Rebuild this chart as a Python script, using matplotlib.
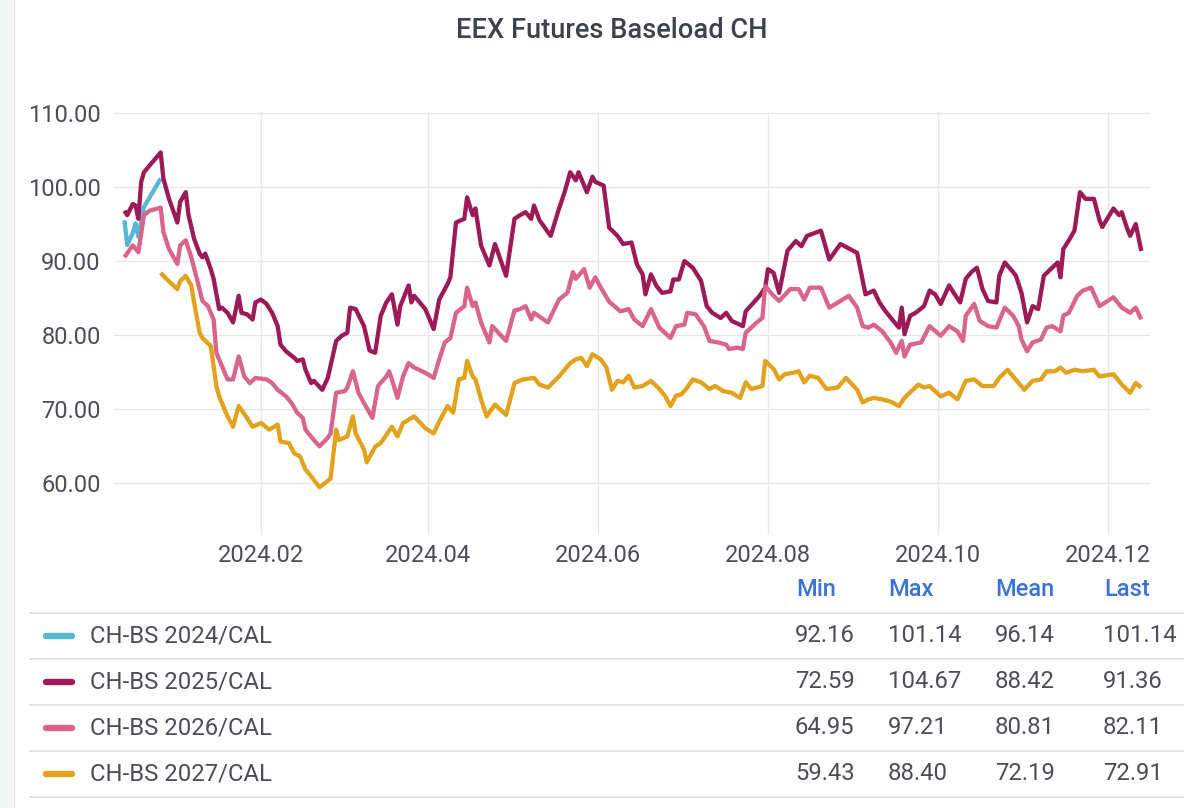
import matplotlib
matplotlib.use('Agg')
import matplotlib.pyplot as plt
import matplotlib.dates as mdates
from matplotlib.lines import Line2D
from matplotlib.patches import Rectangle
import pandas as pd

plt.rcParams['font.family'] = ['Roboto', 'DejaVu Sans']

# ---------------- data ----------------
title = 'EEX Futures Baseload CH'
series_names = ['CH-BS 2024/CAL', 'CH-BS 2025/CAL', 'CH-BS 2026/CAL', 'CH-BS 2027/CAL']
series_colors = ['#56b8d3', '#9c1b56', '#d9658b', '#e2a21e']

dates_2024 = ['2023-12-14', '2023-12-15', '2023-12-17', '2023-12-18', '2023-12-19',
              '2023-12-21', '2023-12-27']
vals_2024 = [95.5, 92.16, 93.8, 95.1, 93.3, 97.3, 101.14]

dates_2025 = ['2023-12-14', '2023-12-15', '2023-12-17', '2023-12-18', '2023-12-19', '2023-12-20',
              '2023-12-21', '2023-12-23', '2023-12-27', '2023-12-28', '2023-12-30', '2024-01-02',
              '2024-01-03', '2024-01-05', '2024-01-06', '2024-01-08', '2024-01-10', '2024-01-11',
              '2024-01-12', '2024-01-14', '2024-01-15', '2024-01-17', '2024-01-18', '2024-01-20',
              '2024-01-22', '2024-01-24', '2024-01-25', '2024-01-27', '2024-01-29', '2024-01-30',
              '2024-02-01', '2024-02-03', '2024-02-05', '2024-02-07', '2024-02-08', '2024-02-10',
              '2024-02-13', '2024-02-14', '2024-02-16', '2024-02-17', '2024-02-19', '2024-02-20',
              '2024-02-23', '2024-02-25', '2024-02-28', '2024-03-01', '2024-03-03', '2024-03-04',
              '2024-03-06', '2024-03-09', '2024-03-11', '2024-03-13', '2024-03-15', '2024-03-17',
              '2024-03-19', '2024-03-21', '2024-03-22', '2024-03-25', '2024-03-26', '2024-03-27',
              '2024-03-31', '2024-04-03', '2024-04-05', '2024-04-08', '2024-04-09', '2024-04-11',
              '2024-04-14', '2024-04-15', '2024-04-17', '2024-04-18', '2024-04-20', '2024-04-23',
              '2024-04-25', '2024-04-29', '2024-05-02', '2024-05-04', '2024-05-06', '2024-05-08',
              '2024-05-09', '2024-05-11', '2024-05-15', '2024-05-18', '2024-05-20', '2024-05-22',
              '2024-05-24', '2024-05-25', '2024-05-28', '2024-05-30', '2024-05-31', '2024-06-03',
              '2024-06-05', '2024-06-08', '2024-06-10', '2024-06-13', '2024-06-15', '2024-06-17',
              '2024-06-18', '2024-06-20', '2024-06-22', '2024-06-24', '2024-06-27', '2024-06-28',
              '2024-06-30', '2024-07-02', '2024-07-05', '2024-07-08', '2024-07-10', '2024-07-12',
              '2024-07-15', '2024-07-17', '2024-07-19', '2024-07-23', '2024-07-24', '2024-07-29',
              '2024-07-31', '2024-08-01', '2024-08-03', '2024-08-05', '2024-08-08', '2024-08-11',
              '2024-08-13', '2024-08-15', '2024-08-20', '2024-08-23', '2024-08-27', '2024-09-02',
              '2024-09-05', '2024-09-08', '2024-09-10', '2024-09-12', '2024-09-15', '2024-09-17',
              '2024-09-18', '2024-09-19', '2024-09-21', '2024-09-23', '2024-09-26', '2024-09-28',
              '2024-09-30', '2024-10-02', '2024-10-05', '2024-10-07', '2024-10-09', '2024-10-11',
              '2024-10-13', '2024-10-15', '2024-10-17', '2024-10-19', '2024-10-22', '2024-10-23',
              '2024-10-25', '2024-10-28', '2024-10-29', '2024-10-31', '2024-11-02', '2024-11-04',
              '2024-11-06', '2024-11-08', '2024-11-11', '2024-11-13', '2024-11-14', '2024-11-15',
              '2024-11-17', '2024-11-19', '2024-11-21', '2024-11-23', '2024-11-26', '2024-11-28',
              '2024-11-29', '2024-12-03', '2024-12-05', '2024-12-06', '2024-12-08', '2024-12-09',
              '2024-12-11', '2024-12-12', '2024-12-13']
vals_2025 = [96.8, 96.2, 97.7, 97.5, 95.7, 100.7,
             102.0, 102.9, 104.67, 101.1, 98.4, 95.2,
             98.0, 99.3, 96.2, 93.0, 91.0, 90.5,
             91.0, 88.9, 87.6, 83.5, 83.7, 83.0,
             81.7, 85.3, 83.0, 82.8, 82.1, 84.4,
             84.8, 84.2, 83.0, 81.2, 78.7, 77.8,
             76.9, 76.5, 76.7, 75.3, 73.5, 73.8,
             72.59, 74.2, 79.2, 79.9, 80.3, 83.7,
             83.5, 81.2, 77.9, 77.6, 82.6, 84.4,
             85.5, 81.4, 83.9, 86.7, 84.4, 85.3,
             83.5, 80.8, 84.8, 86.9, 87.8, 95.2,
             95.7, 98.6, 96.2, 97.1, 92.1, 89.4,
             92.3, 88.0, 95.7, 96.2, 96.6, 95.7,
             97.5, 95.5, 93.4, 97.1, 99.3, 102.0,
             100.9, 102.0, 99.3, 101.4, 100.7, 100.2,
             94.5, 93.4, 92.3, 92.5, 89.5, 88.2,
             85.5, 88.2, 86.6, 85.7, 85.9, 87.5,
             87.5, 90.0, 89.1, 87.3, 83.9, 83.0,
             82.3, 83.0, 81.9, 81.2, 83.2, 85.3,
             86.4, 88.9, 88.4, 85.7, 91.4, 92.7,
             92.0, 93.4, 94.1, 90.2, 92.3, 91.1,
             85.5, 86.0, 84.4, 83.3, 81.9, 81.0,
             83.7, 80.1, 82.6, 83.0, 83.9, 86.0,
             85.5, 84.2, 86.7, 85.5, 84.4, 87.6,
             88.5, 89.1, 86.2, 84.6, 84.4, 88.0,
             89.8, 88.5, 88.0, 85.7, 81.7, 83.9,
             83.5, 88.0, 89.1, 89.8, 87.8, 91.6,
             92.8, 94.1, 99.3, 98.4, 98.4, 95.5,
             94.6, 97.1, 96.2, 96.6, 94.3, 93.4,
             95.0, 93.2, 91.36]

dates_2026 = ['2023-12-14', '2023-12-16', '2023-12-17', '2023-12-19', '2023-12-21', '2023-12-23',
              '2023-12-27', '2023-12-28', '2023-12-30', '2024-01-02', '2024-01-03', '2024-01-05',
              '2024-01-07', '2024-01-09', '2024-01-11', '2024-01-13', '2024-01-15', '2024-01-16',
              '2024-01-18', '2024-01-20', '2024-01-22', '2024-01-24', '2024-01-26', '2024-01-28',
              '2024-01-30', '2024-02-03', '2024-02-05', '2024-02-07', '2024-02-10', '2024-02-12',
              '2024-02-14', '2024-02-16', '2024-02-17', '2024-02-20', '2024-02-22', '2024-02-25',
              '2024-02-26', '2024-02-28', '2024-03-02', '2024-03-03', '2024-03-05', '2024-03-07',
              '2024-03-09', '2024-03-12', '2024-03-14', '2024-03-17', '2024-03-18', '2024-03-19',
              '2024-03-21', '2024-03-23', '2024-03-25', '2024-03-27', '2024-03-31', '2024-04-03',
              '2024-04-05', '2024-04-07', '2024-04-09', '2024-04-11', '2024-04-14', '2024-04-15',
              '2024-04-17', '2024-04-18', '2024-04-20', '2024-04-23', '2024-04-24', '2024-04-29',
              '2024-05-02', '2024-05-04', '2024-05-06', '2024-05-08', '2024-05-09', '2024-05-14',
              '2024-05-18', '2024-05-21', '2024-05-23', '2024-05-24', '2024-05-27', '2024-05-29',
              '2024-05-31', '2024-06-02', '2024-06-05', '2024-06-09', '2024-06-12', '2024-06-14',
              '2024-06-17', '2024-06-20', '2024-06-23', '2024-06-27', '2024-06-29', '2024-07-02',
              '2024-07-03', '2024-07-06', '2024-07-09', '2024-07-11', '2024-07-14', '2024-07-17',
              '2024-07-18', '2024-07-21', '2024-07-23', '2024-07-24', '2024-07-28', '2024-07-30',
              '2024-07-31', '2024-08-03', '2024-08-05', '2024-08-09', '2024-08-12', '2024-08-14',
              '2024-08-16', '2024-08-20', '2024-08-23', '2024-08-27', '2024-08-30', '2024-09-02',
              '2024-09-04', '2024-09-06', '2024-09-08', '2024-09-11', '2024-09-14', '2024-09-16',
              '2024-09-18', '2024-09-19', '2024-09-21', '2024-09-25', '2024-09-28', '2024-10-02',
              '2024-10-05', '2024-10-08', '2024-10-10', '2024-10-11', '2024-10-14', '2024-10-16',
              '2024-10-19', '2024-10-22', '2024-10-25', '2024-10-28', '2024-10-30', '2024-10-31',
              '2024-11-02', '2024-11-04', '2024-11-07', '2024-11-09', '2024-11-11', '2024-11-14',
              '2024-11-15', '2024-11-17', '2024-11-20', '2024-11-22', '2024-11-25', '2024-11-28',
              '2024-12-03', '2024-12-06', '2024-12-09', '2024-12-11', '2024-12-13']
vals_2026 = [90.5, 91.6, 92.1, 91.2, 96.2, 96.8,
             97.21, 93.9, 91.6, 89.6, 92.1, 92.8,
             90.5, 87.6, 84.6, 83.9, 82.1, 77.6,
             75.8, 74.0, 74.0, 77.1, 74.4, 73.5,
             74.2, 74.0, 73.5, 72.6, 71.7, 70.8,
             69.5, 68.8, 67.2, 65.8, 64.95, 66.1,
             66.7, 72.2, 72.4, 72.9, 75.1, 72.2,
             70.8, 68.8, 73.1, 74.4, 75.1, 74.0,
             71.5, 74.4, 76.2, 75.6, 74.9, 74.2,
             76.7, 79.0, 79.6, 83.0, 83.9, 86.4,
             83.9, 84.4, 81.7, 79.0, 81.2, 79.2,
             83.3, 83.5, 83.9, 82.1, 83.0, 81.7,
             84.8, 85.7, 88.5, 87.6, 88.9, 86.4,
             87.8, 86.4, 84.5, 83.2, 83.5, 82.1,
             81.2, 83.5, 81.0, 79.6, 81.2, 81.4,
             83.0, 82.8, 81.2, 79.2, 79.0, 78.7,
             78.1, 78.3, 78.1, 80.3, 81.7, 82.3,
             86.6, 85.3, 84.6, 86.2, 86.2, 84.8,
             86.4, 86.4, 83.7, 84.6, 85.3, 83.7,
             81.2, 81.0, 81.4, 80.5, 79.0, 77.6,
             79.2, 77.1, 78.7, 79.0, 81.2, 79.9,
             81.2, 80.5, 79.2, 82.6, 84.2, 81.9,
             81.2, 81.0, 83.7, 82.6, 81.2, 79.4,
             77.8, 79.0, 79.4, 81.0, 81.2, 80.5,
             82.6, 83.0, 85.3, 86.0, 86.4, 83.9,
             85.1, 83.7, 83.0, 83.7, 82.11]

dates_2027 = ['2023-12-27', '2023-12-29', '2023-12-31', '2024-01-02', '2024-01-03', '2024-01-05',
              '2024-01-07', '2024-01-08', '2024-01-10', '2024-01-11', '2024-01-14', '2024-01-15',
              '2024-01-16', '2024-01-17', '2024-01-20', '2024-01-22', '2024-01-24', '2024-01-27',
              '2024-01-29', '2024-02-01', '2024-02-04', '2024-02-07', '2024-02-08', '2024-02-11',
              '2024-02-13', '2024-02-15', '2024-02-17', '2024-02-19', '2024-02-22', '2024-02-24',
              '2024-02-26', '2024-02-28', '2024-02-29', '2024-03-03', '2024-03-05', '2024-03-06',
              '2024-03-09', '2024-03-10', '2024-03-13', '2024-03-15', '2024-03-17', '2024-03-19',
              '2024-03-21', '2024-03-23', '2024-03-27', '2024-03-31', '2024-04-03', '2024-04-05',
              '2024-04-08', '2024-04-10', '2024-04-12', '2024-04-14', '2024-04-15', '2024-04-17',
              '2024-04-18', '2024-04-20', '2024-04-22', '2024-04-25', '2024-04-29', '2024-05-02',
              '2024-05-05', '2024-05-09', '2024-05-11', '2024-05-14', '2024-05-18', '2024-05-22',
              '2024-05-24', '2024-05-26', '2024-05-28', '2024-05-30', '2024-06-02', '2024-06-04',
              '2024-06-06', '2024-06-08', '2024-06-10', '2024-06-12', '2024-06-14', '2024-06-17',
              '2024-06-20', '2024-06-23', '2024-06-25', '2024-06-27', '2024-06-29', '2024-07-01',
              '2024-07-03', '2024-07-05', '2024-07-08', '2024-07-11', '2024-07-13', '2024-07-16',
              '2024-07-19', '2024-07-22', '2024-07-24', '2024-07-26', '2024-07-30', '2024-07-31',
              '2024-08-03', '2024-08-05', '2024-08-07', '2024-08-10', '2024-08-12', '2024-08-14',
              '2024-08-16', '2024-08-19', '2024-08-22', '2024-08-26', '2024-08-29', '2024-09-02',
              '2024-09-04', '2024-09-06', '2024-09-08', '2024-09-11', '2024-09-14', '2024-09-17',
              '2024-09-19', '2024-09-22', '2024-09-24', '2024-09-26', '2024-09-28', '2024-10-02',
              '2024-10-05', '2024-10-08', '2024-10-11', '2024-10-14', '2024-10-17', '2024-10-21',
              '2024-10-23', '2024-10-26', '2024-10-28', '2024-10-30', '2024-11-01', '2024-11-04',
              '2024-11-07', '2024-11-09', '2024-11-12', '2024-11-14', '2024-11-16', '2024-11-19',
              '2024-11-22', '2024-11-26', '2024-11-28', '2024-12-03', '2024-12-06', '2024-12-09',
              '2024-12-11', '2024-12-13']
vals_2027 = [88.40, 87.6, 86.9, 86.2, 87.3, 88.0,
             86.7, 84.4, 80.3, 79.6, 78.5, 75.8,
             73.1, 71.7, 69.0, 67.6, 70.4, 68.8,
             67.6, 68.1, 67.2, 67.9, 65.6, 65.4,
             64.0, 63.6, 61.8, 60.9, 59.43, 60.0,
             60.6, 67.2, 65.8, 66.3, 69.0, 66.7,
             64.5, 62.8, 64.9, 65.4, 66.5, 67.6,
             66.3, 68.1, 69.0, 67.4, 66.7, 68.3,
             70.4, 69.5, 74.0, 74.2, 76.5, 74.4,
             74.0, 71.3, 69.0, 70.6, 69.2, 73.5,
             74.0, 74.2, 73.3, 72.9, 74.4, 76.2,
             76.7, 76.9, 75.8, 77.4, 76.7, 75.6,
             72.6, 73.8, 73.6, 74.5, 72.9, 73.1,
             73.8, 72.7, 71.8, 70.4, 71.8, 72.0,
             72.9, 74.0, 73.6, 72.7, 73.1, 72.4,
             72.2, 71.5, 73.6, 72.7, 73.1, 76.5,
             75.4, 74.0, 74.7, 74.9, 75.1, 73.6,
             74.5, 74.2, 72.7, 72.9, 74.2, 72.6,
             70.9, 71.3, 71.5, 71.3, 71.0, 70.4,
             71.5, 72.6, 73.3, 72.9, 73.1, 71.7,
             72.2, 71.3, 73.8, 74.0, 73.1, 73.1,
             74.2, 75.3, 74.4, 73.5, 72.6, 73.8,
             74.0, 75.1, 75.1, 75.6, 74.9, 75.3,
             75.1, 75.3, 74.4, 74.7, 73.3, 72.2,
             73.5, 72.91]

stat_headers = ['Min', 'Max', 'Mean', 'Last']
stats_2024 = ['92.16', '101.14', '96.14', '101.14']
stats_2025 = ['72.59', '104.67', '88.42', '91.36']
stats_2026 = ['64.95', '97.21', '80.81', '82.11']
stats_2027 = ['59.43', '88.40', '72.19', '72.91']

y_ticks = [60, 70, 80, 90, 100, 110]
x_tick_dates = ['2024-02-01', '2024-04-01', '2024-06-01', '2024-08-01', '2024-10-01', '2024-12-01']
x_range = ['2023-12-10 06:00', '2024-12-16 03:00']
y_range = [52.97, 110.14]

all_dates = [dates_2024, dates_2025, dates_2026, dates_2027]
all_vals = [vals_2024, vals_2025, vals_2026, vals_2027]
all_stats = [stats_2024, stats_2025, stats_2026, stats_2027]

# ---------------- figure ----------------
W, H = 1184, 808
fig = plt.figure(figsize=(W / 100, H / 100), dpi=100)
fig.patch.set_facecolor('white')

def fx(px):
    return px / W

def fy(py):
    return 1 - py / H

TEXT = '#4b4e55'
GRID = '#e6e6e6'

# left panel strip
fig.patches.append(Rectangle((0, 0), fx(13), 1, transform=fig.transFigure,
                             facecolor='#f3f4f4', edgecolor='none', zorder=0))
fig.lines.append(Line2D([fx(13.5), fx(13.5)], [0, 1], transform=fig.transFigure,
                        color='#e3e5e6', lw=1.0))

ax = fig.add_axes([fx(114), fy(535), fx(1150) - fx(114), fy(112) - fy(535)])
ax.set_facecolor('none')

for d, v, c in zip(all_dates, all_vals, series_colors):
    ax.plot(pd.to_datetime(d), v, color=c, lw=3.1, solid_joinstyle='round',
            solid_capstyle='butt', zorder=3)

ax.set_xlim(pd.to_datetime(x_range[0]), pd.to_datetime(x_range[1]))
ax.set_ylim(*y_range)
ax.set_yticks(y_ticks)
ax.set_yticklabels([f'{t:.2f}' for t in y_ticks])
ax.set_xticks(pd.to_datetime(x_tick_dates))
ax.xaxis.set_major_formatter(mdates.DateFormatter('%Y.%m'))
ax.grid(True, color=GRID, lw=0.9)
ax.set_axisbelow(True)
for s in ax.spines.values():
    s.set_visible(False)
ax.tick_params(axis='both', length=0, labelsize=17, labelcolor=TEXT)
ax.tick_params(axis='y', pad=9.5)
ax.tick_params(axis='x', pad=6.5)

# title
fig.text(fx(612), fy(30), title, ha='center', va='center', fontsize=19.6,
         color='#3f4349', fontweight='medium')

# legend table
header_x = [796, 888, 995, 1104]
value_x = [795, 888, 995, 1103]
row_y = [636, 682, 728, 774]
sep_y = [613, 659, 705, 751, 797]

for hx, h in zip(header_x, stat_headers):
    fig.text(fx(hx), fy(590), h, ha='left', va='center', fontsize=17,
             color='#3a72d8', fontweight='medium')
for sy in sep_y:
    fig.lines.append(Line2D([fx(30), 1], [fy(sy), fy(sy)], transform=fig.transFigure,
                            color='#e2e2e2', lw=1.3))
for ry, name, col, st in zip(row_y, series_names, series_colors, all_stats):
    fig.lines.append(Line2D([fx(46), fx(72)], [fy(ry), fy(ry)], transform=fig.transFigure,
                            color=col, lw=4.6, solid_capstyle='round'))
    fig.text(fx(90), fy(ry), name, ha='left', va='center', fontsize=17.2, color=TEXT)
    for vx, s in zip(value_x, st):
        fig.text(fx(vx), fy(ry), s, ha='left', va='center', fontsize=17.2, color=TEXT)

fig.savefig('out.png', dpi=100, facecolor='white')
